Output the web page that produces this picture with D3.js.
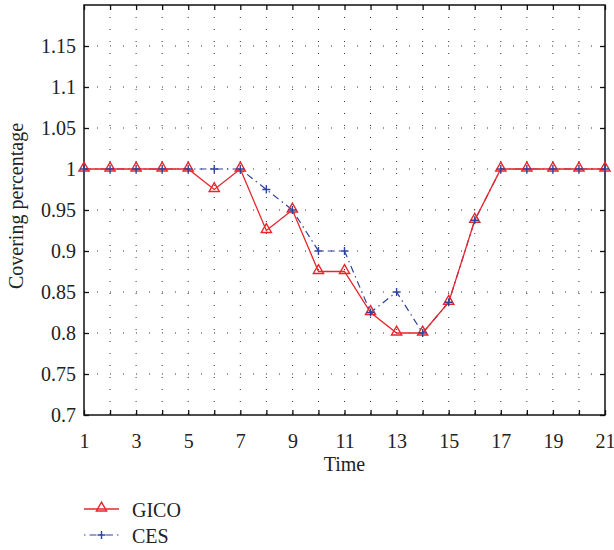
<!DOCTYPE html>
<html>
<head>
<meta charset="utf-8">
<script src="https://cdn.jsdelivr.net/npm/d3@7"></script>
<style>
  body { margin: 0; background: #fff; }
  svg text { font-family: "Liberation Serif", "DejaVu Serif", serif !important; }
</style>
</head>
<body>
<div id="chart-area"></div>
<script>
const times = d3.range(1, 22);
const gico = [1, 1, 1, 1, 1, 0.975, 1, 0.925, 0.95, 0.875, 0.875, 0.825, 0.8, 0.8, 0.8375, 0.9375, 1, 1, 1, 1, 1];
const ces = [1, 1, 1, 1, 1, 1, 1, 0.975, 0.95, 0.9, 0.9, 0.825, 0.85, 0.8, 0.8375, 0.9375, 1, 1, 1, 1, 1];
const yTicks = [0.7, 0.75, 0.8, 0.85, 0.9, 0.95, 1, 1.05, 1.1, 1.15];
const xLabels = [1, 3, 5, 7, 9, 11, 13, 15, 17, 19, 21];

const MARGIN = { LEFT: 84, RIGHT: 9, TOP: 5, BOTTOM: 135 };
const WIDTH = 614 - MARGIN.LEFT - MARGIN.RIGHT;
const HEIGHT = 550 - MARGIN.TOP - MARGIN.BOTTOM;

const RED = "#e8262c";
const BLUE = "#2d439c";
const FONT = "'Liberation Serif', 'DejaVu Serif', serif";

const svg = d3.select("#chart-area").append("svg")
    .attr("width", 614)
    .attr("height", 550)
    .attr("font-family", FONT)

const g = svg.append("g")
    .attr("transform", `translate(${MARGIN.LEFT}, ${MARGIN.TOP})`)

const x = d3.scaleLinear().domain([1, 21]).range([0, WIDTH])
const y = d3.scaleLinear().domain([0.7, 1.2]).range([HEIGHT, 0])

// dotted grid
g.append("g").selectAll("line")
    .data(times.slice(1, -1))
    .enter().append("line")
    .attr("x1", d => x(d)).attr("x2", d => x(d))
    .attr("y1", 0).attr("y2", HEIGHT)
    .attr("stroke", "#333").attr("stroke-width", 1)
    .attr("stroke-dasharray", "1,11")

g.append("g").selectAll("line")
    .data(yTicks.slice(1))
    .enter().append("line")
    .attr("x1", 0).attr("x2", WIDTH)
    .attr("y1", d => y(d)).attr("y2", d => y(d))
    .attr("stroke", "#333").attr("stroke-width", 1)
    .attr("stroke-dasharray", "1,12")

// axes
const xAxisCall = d3.axisBottom(x)
    .tickValues(times)
    .tickSizeInner(-5).tickSizeOuter(0)
    .tickFormat(d => xLabels.includes(d) ? d : "")

const xAxisG = g.append("g")
    .attr("transform", `translate(0, ${HEIGHT})`)
    .call(xAxisCall)
xAxisG.attr("font-family", FONT).attr("font-size", 20)
xAxisG.selectAll("text")
    .attr("y", 19)
    .attr("fill", "#222")

const yAxisCall = d3.axisLeft(y)
    .tickValues(yTicks)
    .tickSizeInner(-5).tickSizeOuter(0)
    .tickFormat(d => d3.format("~g")(d))

const yAxisG = g.append("g")
    .call(yAxisCall)
yAxisG.attr("font-family", FONT).attr("font-size", 20)
yAxisG.selectAll("text")
    .attr("x", -8)
    .attr("fill", "#222")

// top and right mirror ticks
g.append("g")
    .call(d3.axisTop(x).tickValues(times).tickSizeInner(-5).tickSizeOuter(0).tickFormat(""))
g.append("g")
    .attr("transform", `translate(${WIDTH}, 0)`)
    .call(d3.axisRight(y).tickValues(yTicks).tickSizeInner(-5).tickSizeOuter(0).tickFormat(""))

g.selectAll(".domain").remove()
g.selectAll(".tick line").attr("stroke", "#111").attr("stroke-width", 1.3)

g.append("rect")
    .attr("width", WIDTH).attr("height", HEIGHT)
    .attr("fill", "none").attr("stroke", "#111").attr("stroke-width", 1.5)

// lines
const line = d3.line().x((d, i) => x(times[i])).y(d => y(d))

g.append("path")
    .datum(ces)
    .attr("d", line)
    .attr("fill", "none").attr("stroke", BLUE).attr("stroke-width", 1.2)
    .attr("stroke-dasharray", "7,4,1.5,4")

g.append("path")
    .datum(gico)
    .attr("d", line)
    .attr("fill", "none").attr("stroke", RED).attr("stroke-width", 1.3)

const tri = d3.symbol().type(d3.symbolTriangle).size(45)
const PLUS = "M-4,0H4M0,-4V4"

g.selectAll("path.tri")
    .data(gico)
    .enter().append("path")
    .attr("class", "tri")
    .attr("d", tri)
    .attr("transform", (d, i) => `translate(${x(times[i])}, ${y(d) - 1})`)
    .attr("fill", "none").attr("stroke", RED).attr("stroke-width", 1.4)

g.selectAll("path.plus")
    .data(ces)
    .enter().append("path")
    .attr("class", "plus")
    .attr("d", PLUS)
    .attr("transform", (d, i) => `translate(${x(times[i])}, ${y(d)})`)
    .attr("fill", "none").attr("stroke", BLUE).attr("stroke-width", 1.4)

// axis titles
svg.append("text")
    .attr("x", MARGIN.LEFT + WIDTH / 2)
    .attr("y", 471)
    .attr("text-anchor", "middle")
    .attr("fill", "#222")
    .style("font-size", "20px")
    .text("Time")

svg.append("text")
    .attr("transform", `translate(23, 206) rotate(-90)`)
    .attr("text-anchor", "middle")
    .attr("fill", "#222")
    .style("font-size", "20px")
    .text("Covering percentage")

// legend
const legend = svg.append("g").attr("transform", "translate(84, 509)")

legend.append("line")
    .attr("x1", 0).attr("x2", 35).attr("y1", 0).attr("y2", 0)
    .attr("stroke", RED).attr("stroke-width", 1.3)
legend.append("path")
    .attr("d", tri)
    .attr("transform", "translate(17.5, -1)")
    .attr("fill", "none").attr("stroke", RED).attr("stroke-width", 1.4)
legend.append("text")
    .attr("x", 48).attr("y", 8)
    .attr("fill", "#222")
    .style("font-size", "20px")
    .text("GICO")

legend.append("line")
    .attr("x1", 0).attr("x2", 35).attr("y1", 26).attr("y2", 26)
    .attr("stroke", BLUE).attr("stroke-width", 1.2)
    .attr("stroke-dasharray", "1.5,4,7,4")
legend.append("path")
    .attr("d", PLUS)
    .attr("transform", "translate(17.5, 26)")
    .attr("fill", "none").attr("stroke", BLUE).attr("stroke-width", 1.4)
legend.append("text")
    .attr("x", 48).attr("y", 34)
    .attr("fill", "#222")
    .style("font-size", "20px")
    .text("CES")
</script>
</body>
</html>
